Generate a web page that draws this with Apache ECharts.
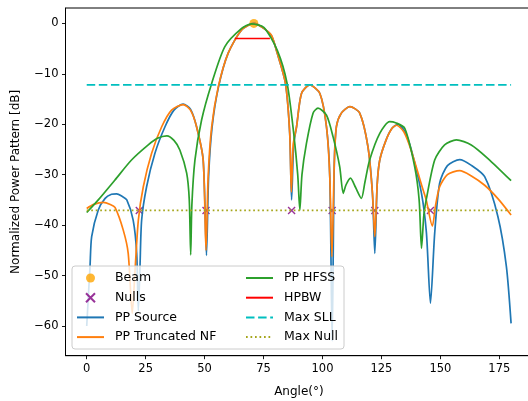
<!DOCTYPE html>
<html>
<head>
<meta charset="utf-8">
<script src="https://cdn.jsdelivr.net/npm/echarts@6/dist/echarts.min.js"></script>
<style>
html,body{margin:0;padding:0;background:#fff;}
#chart{width:528px;height:401px;}
</style>
</head>
<body>
<div id="chart"></div>
<script>
// ---- data ----
const xTicks = [0, 25, 50, 75, 100, 125, 150, 175];
const yTicks = [0, -10, -20, -30, -40, -50, -60];

const sourceAngles = [0,1.4,2.1,4.9,7.8,10.5,12.7,15,17,19.7,21.2,21.9,22.6,23.3,25.4,28.9,33.2,37,40.9,44,46.6,49.4,50.8,51.7,53.2,55.9,60,65.7,70.9,75.1,78.4,80.8,84.3,86.1,86.9,87.8,89,91.1,94.6,98.9,101.7,103.1,104.1,105,105.9,108,111.6,115.8,119.3,121.2,122.2,123.2,124.3,127,129.5,132,135,137.7,142,144.1,145.8,147.6,149.7,153,158.2,163,168.8,174.4,178,180];
const sourceValues = [-60,-48.2,-42.3,-37,-34.7,-33.9,-33.8,-34.3,-35,-39,-45.6,-57,-48.2,-39,-32.4,-25.8,-20.5,-17.2,-16,-17,-20.5,-27.1,-46,-30.4,-20.5,-12.6,-5.9,-1.3,0,-1,-2.5,-5.9,-11.9,-21.8,-35,-24,-20.5,-13.9,-12.2,-13.9,-20.5,-30.4,-63,-28,-20.5,-17.8,-16.5,-17.8,-24.5,-33.7,-45.6,-32,-27.1,-23.1,-20.8,-20,-21.5,-25.1,-33.7,-41.6,-55.5,-41.6,-31.7,-28.2,-27,-28.1,-30.4,-38.3,-48.2,-59.5];

const truncAngles = [0,3,7,10,12,15.5,17.6,19.3,20.5,21.9,24,27.5,31.8,36,40.9,44,46.6,49.4,50.6,51.5,53,55.8,60,65.7,71,75.1,78.4,80.8,84.3,86.1,86.8,87.6,89,91.1,94.6,98.9,101.7,103.1,104,105,105.9,108,111.6,115.8,119.3,121.2,122.2,123.2,124.3,127,129.5,131.4,134.5,137.5,142,144,146.6,148,149.7,153,158.2,163,168.8,174.5,180];
const truncValues = [-36.7,-35.9,-35.5,-35.9,-36.5,-41,-45.6,-57.5,-48.9,-39,-32.4,-25.8,-20.5,-17.2,-16.1,-17.2,-20.5,-27.1,-45,-30.4,-20.5,-12.6,-5.9,-1.3,0,-1,-2.4,-5.9,-11.9,-21.8,-33.4,-24,-20.5,-13.9,-12.2,-13.9,-20.5,-30.4,-46.3,-28,-20.5,-17.8,-16.5,-17.8,-24.5,-33.7,-42.3,-32,-27.1,-23.1,-20.8,-20.2,-21.5,-25,-32,-35,-40.2,-36,-32.4,-30,-29.2,-30.2,-32.1,-34.8,-38];

const hfssAngles = [0,4.9,11.9,19,26.1,30,34,37,39.5,42.4,43.5,44.1,44.6,45.9,48.7,53,58.6,65.7,69.9,75.1,80.8,85,87.8,89.5,90.4,91.3,93.2,96,98.1,101.7,104.5,107.3,108.8,110,111.9,114,116.5,118,120,124.3,128.5,131,134.9,139.1,141,142,143,144,147.6,151.8,156.8,163.1,170.2,180];
const hfssValues = [-37.5,-35,-31.1,-27.1,-24.1,-22.8,-22.3,-23.2,-25.1,-29.7,-35,-45.9,-36,-27.1,-19.2,-11.9,-4.6,-1,-0.1,-0.8,-5.3,-11.9,-21.8,-30,-37,-30,-23.8,-17.8,-16.8,-18.2,-22.5,-28.4,-33.7,-32,-30.7,-32.5,-34.7,-31.5,-27.1,-21.8,-19.5,-19.7,-20.8,-28.4,-35,-44.6,-38,-35,-27.1,-24.1,-23.1,-24.1,-26.8,-31.2];

const beamAngle = [70.9];
const beamValue = [0];
const nullAngles = [22.3, 50.6, 86.9, 104.1, 122.2, 145.8];
const maxNullLevel = -37.1;
const maxSllLevel = -12.2;
const hpbwAngles = [62.8, 77.7];
const hpbwLevel = -3;
const spanAngles = [0, 180];

const legendLeft = ['Beam', 'Nulls', 'PP Source', 'PP Truncated NF'];
const legendRight = ['PP HFSS', 'HPBW', 'Max SLL', 'Max Null'];
const markerNames = ['Beam', 'Nulls'];

// ---- build ----
const pairs = (xs, ys) => xs.map((x, i) => [x, ys[i]]);
const FONT = 'DejaVu Sans';
const lineW = 1.7;

const chart = echarts.init(document.getElementById('chart'), null, {renderer: 'canvas'});
const X_PATH = 'path://M0,0 L10,10 M10,0 L0,10';

const legendItems = names => names.map(n => markerNames.includes(n) ? {name: n} : {name: n, itemStyle: {opacity: 0}});

const legendCommon = {
  orient: 'vertical',
  padding: 0,
  itemWidth: 27,
  itemHeight: 9,
  itemGap: 5.7,
  z: 10,
  textStyle: {fontFamily: FONT, fontSize: 12.5, color: '#000', lineHeight: 14, padding: [0, 0, 0, 6]}
};

chart.setOption({
  animation: false,
  backgroundColor: '#fff',
  grid: {left: 65.5, top: 8, width: 466.8, height: 347.7, outerBoundsMode: 'none', containLabel: false,
    show: true, borderColor: '#000', borderWidth: 1, backgroundColor: 'transparent'},
  xAxis: {
    type: 'value', min: -9, max: 189,
    name: 'Angle(°)', nameLocation: 'middle', nameGap: 30,
    nameTextStyle: {fontFamily: FONT, fontSize: 12, color: '#000'},
    axisLine: {show: true, onZero: false, lineStyle: {color: '#000', width: 1}},
    axisTick: {show: true, length: 3.5, inside: false, customValues: xTicks, lineStyle: {color: '#000', width: 0.9}},
    axisLabel: {customValues: xTicks, fontFamily: FONT, fontSize: 11.5, color: '#000', margin: 7},
    splitLine: {show: false}
  },
  yAxis: {
    type: 'value', min: -65.9, max: 3.05,
    name: 'Normalized Power Pattern [dB]', nameLocation: 'middle', nameGap: 44,
    nameTextStyle: {fontFamily: FONT, fontSize: 12, color: '#000'},
    axisLine: {show: true, onZero: false, lineStyle: {color: '#000', width: 1}},
    axisTick: {show: true, length: 3.5, inside: false, customValues: yTicks, lineStyle: {color: '#000', width: 0.9}},
    axisLabel: {customValues: yTicks, fontFamily: FONT, fontSize: 11.5, color: '#000', margin: 7,
      formatter: v => (v < 0 ? '\u2212' + Math.abs(v) : String(v))},
    splitLine: {show: false}
  },
  graphic: [{
    type: 'rect', z: 5,
    shape: {x: 72, y: 266, width: 272, height: 83, r: 3},
    style: {fill: 'rgba(255,255,255,0.8)', stroke: '#cccccc', lineWidth: 1}
  }],
  legend: [
    Object.assign({}, legendCommon, {data: legendItems(legendLeft), left: 76, top: 271}),
    Object.assign({}, legendCommon, {data: legendItems(legendRight), left: 245, top: 271})
  ],
  series: [
    {name: 'Beam', type: 'scatter', data: pairs(beamAngle, beamValue), symbol: 'circle', symbolSize: 9,
      itemStyle: {color: '#ffa500'}, z: 2},
    {name: 'Nulls', type: 'scatter', data: nullAngles.map(a => [a, maxNullLevel]), symbol: X_PATH, symbolSize: 7,
      itemStyle: {color: 'rgba(0,0,0,0)', borderColor: '#800080', borderWidth: 1.4}, z: 2},
    {name: 'PP Source', type: 'line', data: pairs(sourceAngles, sourceValues), symbol: 'none', smooth: 0.25,
      lineStyle: {color: '#1f77b4', width: lineW}, itemStyle: {color: '#1f77b4'}, z: 3},
    {name: 'PP Truncated NF', type: 'line', data: pairs(truncAngles, truncValues), symbol: 'none', smooth: 0.25,
      lineStyle: {color: '#ff7f0e', width: lineW}, itemStyle: {color: '#ff7f0e'}, z: 3},
    {name: 'PP HFSS', type: 'line', data: pairs(hfssAngles, hfssValues), symbol: 'none', smooth: 0.25,
      lineStyle: {color: '#2ca02c', width: lineW}, itemStyle: {color: '#2ca02c'}, z: 3},
    {name: 'HPBW', type: 'line', data: hpbwAngles.map(a => [a, hpbwLevel]), symbol: 'none',
      lineStyle: {color: '#ff0000', width: lineW}, itemStyle: {color: '#ff0000'}, z: 3},
    {name: 'Max SLL', type: 'line', data: spanAngles.map(a => [a, maxSllLevel]), symbol: 'none',
      lineStyle: {color: '#00bfbf', width: lineW, type: [8.5, 3.6]}, itemStyle: {color: '#00bfbf'}, z: 3},
    {name: 'Max Null', type: 'line', data: spanAngles.map(a => [a, maxNullLevel]), symbol: 'none',
      lineStyle: {color: '#a5a51a', width: lineW, type: [1.7, 2.8]}, itemStyle: {color: '#a5a51a'}, z: 3}
  ]
});
</script>
</body>
</html>
